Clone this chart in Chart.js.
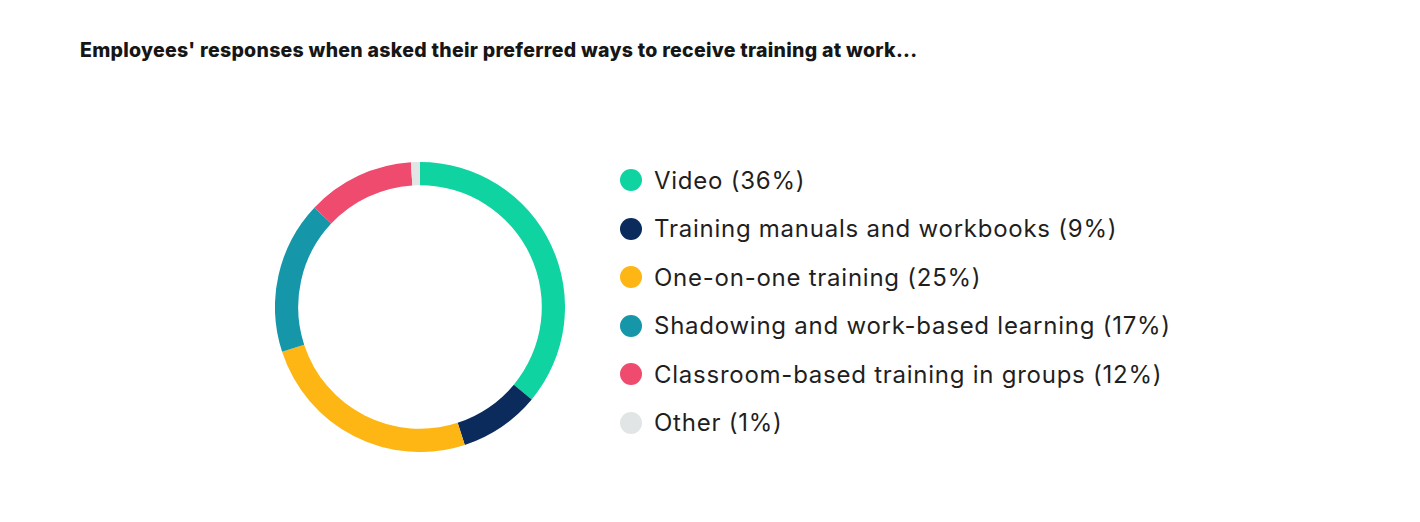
<!DOCTYPE html>
<html>
<head>
<meta charset="utf-8">
<script src="https://cdn.jsdelivr.net/npm/chart.js@4"></script>
<style>
  html, body { margin: 0; padding: 0; background: #fff; width: 1420px; height: 522px; overflow: hidden; font-family: Inter, "Noto Sans", sans-serif; }
  #title { position: absolute; left: 80px; top: 38px; font-size: 19.5px; font-weight: 800; color: #161616; letter-spacing: 0.28px; white-space: nowrap; }
  #wrap { position: absolute; left: 274.5px; top: 161.5px; width: 290px; height: 290px; }
  #legend { position: absolute; left: 620px; top: 156px; }
  .item { height: 48.5px; display: flex; align-items: center; font-size: 24px; letter-spacing: 0.75px; color: #1f1f1f; white-space: nowrap; }
  .dot { width: 22px; height: 22px; border-radius: 50%; margin-right: 12px; flex: none; }
</style>
</head>
<body>
<div id="title">Employees' responses when asked their preferred ways to receive training at work...</div>
<div id="wrap"><canvas id="c" width="290" height="290"></canvas></div>
<div id="legend"></div>
<script>
const categories = [
  "Video",
  "Training manuals and workbooks",
  "One-on-one training",
  "Shadowing and work-based learning",
  "Classroom-based training in groups",
  "Other"
];
const values = [36, 9, 25, 17, 12, 1];
const colors = ["#0fd3a1", "#0b2b5c", "#fdb614", "#1597a9", "#ef4b6f", "#e2e5e5"];

const labels = categories.map((c, i) => c + " (" + values[i] + "%)");

new Chart(document.getElementById("c"), {
  type: "doughnut",
  data: {
    labels: labels,
    datasets: [{ data: values, backgroundColor: colors, borderWidth: 0, hoverOffset: 0 }]
  },
  options: {
    responsive: false,
    animation: false,
    cutout: "84%",
    rotation: 0,
    layout: { padding: 0 },
    plugins: { legend: { display: false }, tooltip: { enabled: false } }
  }
});

const lg = document.getElementById("legend");
labels.forEach((t, i) => {
  const row = document.createElement("div");
  row.className = "item";
  const d = document.createElement("span");
  d.className = "dot";
  d.style.background = colors[i];
  const s = document.createElement("span");
  s.textContent = t;
  row.appendChild(d);
  row.appendChild(s);
  lg.appendChild(row);
});
</script>
</body>
</html>
